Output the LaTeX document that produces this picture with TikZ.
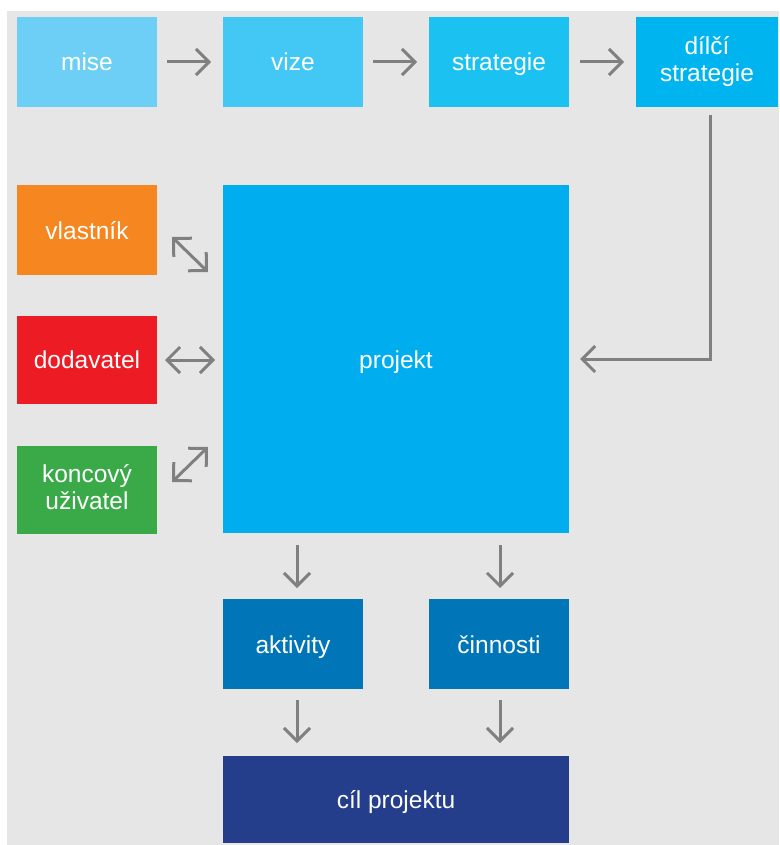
\documentclass[tikz,border=0pt]{standalone}
\usepackage{fontspec}
\setmainfont{Liberation Sans}
\usetikzlibrary{arrows.meta,calc}
\definecolor{bg}{HTML}{E6E6E6}
\definecolor{cmise}{HTML}{6DCFF6}
\definecolor{cvize}{HTML}{43C8F5}
\definecolor{cstrat}{HTML}{1BC1F1}
\definecolor{cdil}{HTML}{00B5EF}
\definecolor{cproj}{HTML}{00AEEF}
\definecolor{cvl}{HTML}{F58620}
\definecolor{cdod}{HTML}{ED1C24}
\definecolor{cko}{HTML}{3AAA48}
\definecolor{cakt}{HTML}{0075B7}
\definecolor{ccil}{HTML}{243E8B}
\definecolor{arrgray}{HTML}{808080}
\tikzset{
  box/.style={rectangle, inner sep=0pt, outer sep=0pt, text=white, align=center,
    font=\fontsize{24.5}{27}\selectfont, minimum width=140pt, minimum height=90pt},
  one/.style={text height=23pt, text depth=5pt},
  arr/.style={draw=arrgray, line width=3pt, -{Straight Barb[length=13pt,width=26pt]}},
  darr/.style={draw=arrgray, line width=3pt, {Straight Barb[length=13pt,width=26pt]}-{Straight Barb[length=13pt,width=26pt]}},
}
\begin{document}
\begin{tikzpicture}[x=1pt,y=-1pt]
\useasboundingbox (0,0) rectangle (779,845);
\fill[bg] (7,11) rectangle (779,845);
% top row
\node[box, one, fill=cmise] (mise) at (87,62) {mise};
\node[box, one, fill=cvize] (vize) at (293,62) {vize};
\node[box, one, fill=cstrat] (strat) at (499,62) {strategie};
\node[box, fill=cdil, minimum width=142pt] (dil) at (707,62) {\rule{0pt}{24pt}dílčí\\strategie\rule[-11pt]{0pt}{0pt}};
% left column
\node[box, one, fill=cvl] (vl) at (87,230) {vlastník};
\node[box, one, fill=cdod, minimum height=88pt] (dod) at (87,359.5) {dodavatel};
\node[box, fill=cko, minimum height=88pt] (ko) at (87,489.5) {\rule{0pt}{24pt}koncový\\uživatel\rule[-12pt]{0pt}{0pt}};
% project
\node[box, one, fill=cproj, minimum width=346pt, minimum height=348pt] (pr) at (396,359) {projekt};
% bottom
\node[box, one, fill=cakt] (akt) at (293,644) {aktivity};
\node[box, one, fill=cakt] (cin) at (499,644) {činnosti};
\node[box, one, fill=ccil, minimum width=346pt, minimum height=87pt] (cil) at (396,799.5) {cíl projektu};
% top arrows
\draw[arr] ($(mise.east)+(10,0)$) -- ($(vize.west)+(-12,0)$);
\draw[arr] ($(vize.east)+(10,0)$) -- ($(strat.west)+(-12,0)$);
\draw[arr] ($(strat.east)+(11,0)$) -- ($(dil.west)+(-12,0)$);
% corner connector
\draw[arr] ($(dil.south)+(3,8)$) |- ($(pr.east)+(11,0)$);
% left arrows
\draw[darr] ($(vl.east)+(15,7)$) -- ($(pr.west)+(-15,-87)$);
\draw[darr] ($(dod.east)+(8,0.5)$) -- ($(pr.west)+(-8,1)$);
\draw[darr] ($(ko.east)+(15,-7.5)$) -- ($(pr.west)+(-15,88)$);
% down arrows
\draw[arr] ($(akt.north |- pr.south)+(4,12)$) -- ($(akt.north)+(4,-11)$);
\draw[arr] ($(cin.north |- pr.south)+(1,12)$) -- ($(cin.north)+(1,-11)$);
\draw[arr] ($(akt.south)+(4,11)$) -- ($(akt.south |- cil.north)+(4,-13)$);
\draw[arr] ($(cin.south)+(1,11)$) -- ($(cin.south |- cil.north)+(1,-13)$);
\end{tikzpicture}
\end{document}
